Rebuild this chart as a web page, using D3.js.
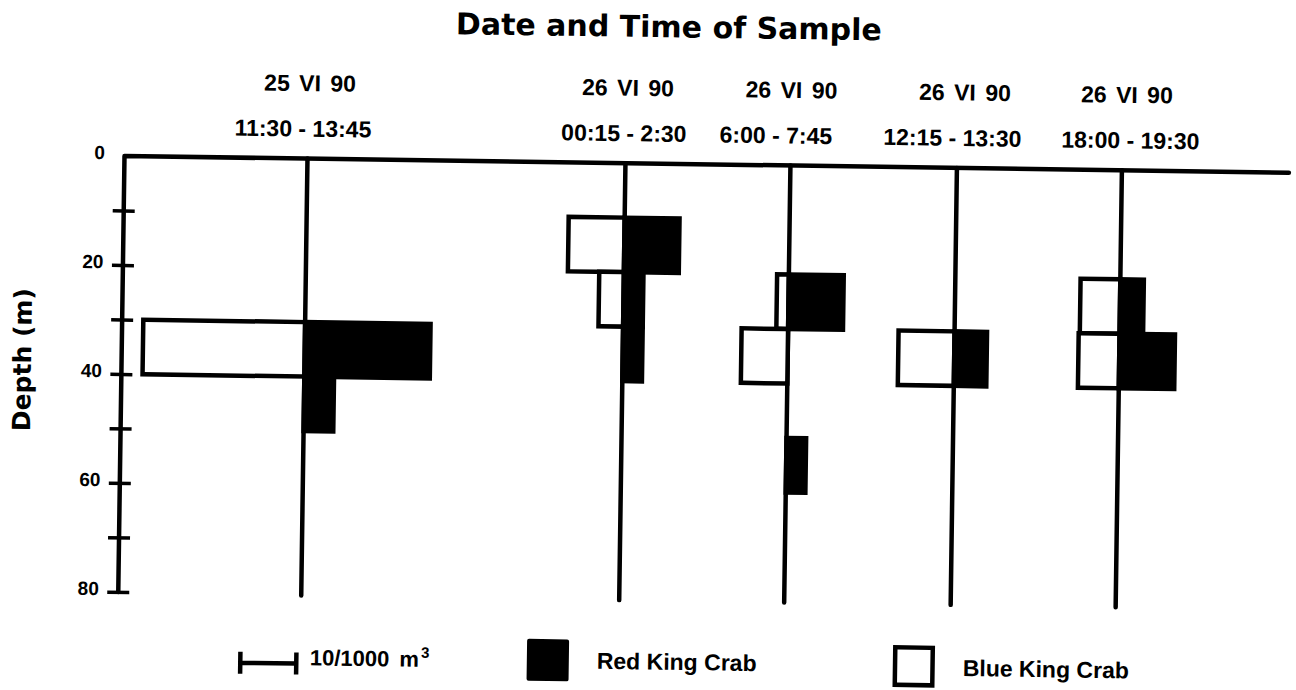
<!DOCTYPE html>
<html>
<head>
<meta charset="utf-8">
<script src="https://cdn.jsdelivr.net/npm/d3@7"></script>
<style>
  html, body { margin: 0; padding: 0; background: #fff; }
  svg { display: block; }
</style>
</head>
<body>
<svg id="chart" width="1296" height="690"></svg>
<script>
// ---- data ----
const sampleDates = ["25 VI 90", "26 VI 90", "26 VI 90", "26 VI 90", "26 VI 90"];
const sampleTimes = ["11:30 - 13:45", "00:15 - 2:30", "6:00 - 7:45", "12:15 - 13:30", "18:00 - 19:30"];
// top of each 10 m depth stratum (m)
const strataTop = [10, 20, 30, 40, 50];
// larval density (no./1000 m³), one row per sample, one value per stratum
const redKingCrab = [
  [0,   0,   22.4, 5.3, 0],
  [9.8, 3.5, 3.5,  0,   0],
  [0,   9.8, 0,    0,   3.5],
  [0,   0,   5.8,  0,   0],
  [0,   4.2, 9.9,  0,   0]
];
const blueKingCrab = [
  [0,  0,   28.9, 0, 0],
  [10, 4.4, 0,    0, 0],
  [0,  2.1, 8.3,  0, 0],
  [0,  0,   10,   0, 0],
  [0,  7.1, 7.3,  0, 0]
];
const depthTicks = [0, 10, 20, 30, 40, 50, 60, 70, 80];
const depthLabels = [0, 20, 40, 60, 80];
const scaleBarValue = 10;
const scaleUnit = ["10/1000 m", "3"];
const legendLabels = ["Red King Crab", "Blue King Crab"];

// ---- layout ----
const STROKE = 4.5;
const svg = d3.select("#chart");
// the printed figure sits slightly askew on the page
const g = svg.append("g").attr("transform", "rotate(0.82,125,156)");

const y = d3.scaleLinear().domain([0, 80]).range([156, 592]);
const stationX = d3.scaleOrdinal()
  .domain(d3.range(sampleDates.length))
  .range([307.5, 625.5, 790.5, 957, 1122]);
const w = d3.scaleLinear().domain([0, 10]).range([0, 56]);

const dateNudge = [1.5, 1.5, 0, 7, 4];
const timeNudge = [-5, -2, -15, -5, 8];

// title
g.append("text")
  .attr("x", 667).attr("y", 29.5)
  .attr("text-anchor", "middle")
  .attr("font-family", "DejaVu Sans")
  .attr("font-weight", "bold")
  .attr("font-size", 30)
  .text("Date and Time of Sample");

// sample headers
const hdr = g.append("g")
  .attr("font-family", "Liberation Sans")
  .attr("font-weight", "bold")
  .attr("font-size", 23)
  .attr("text-anchor", "middle");
hdr.selectAll("text.date").data(sampleDates).join("text")
  .attr("class", "date")
  .attr("x", (d, i) => stationX(i) + dateNudge[i])
  .attr("y", 88.5)
  .attr("word-spacing", 3)
  .text(d => d);
hdr.selectAll("text.time").data(sampleTimes).join("text")
  .attr("class", "time")
  .attr("x", (d, i) => stationX(i) + timeNudge[i])
  .attr("y", 134)
  .text(d => d);

// depth axis
const axisX = 124.5;
const axis = d3.axisLeft(y)
  .tickValues(depthTicks)
  .tickSizeInner(11)
  .tickSizeOuter(0)
  .tickFormat(d => depthLabels.includes(d) ? d3.format("d")(d) : "");
const ag = g.append("g").attr("transform", `translate(${axisX},0)`).call(axis);
ag.select(".domain").remove();
ag.selectAll(".tick line")
  .attr("x1", -11).attr("x2", 11)
  .attr("stroke", "#000").attr("stroke-width", 3.5);
ag.selectAll(".tick").filter(d => d === 0).select("line").remove();
ag.selectAll(".tick text")
  .attr("x", -19.5).attr("dy", null).attr("y", 3)
  .attr("fill", "#000")
  .style("font-family", "Liberation Sans")
  .style("font-weight", "bold")
  .style("font-size", "19px");

// axis line and the surface line
const frame = d3.path();
frame.moveTo(axisX, y(80));
frame.lineTo(axisX, y(0));
frame.lineTo(1289, y(0));
g.append("path")
  .attr("d", frame.toString())
  .attr("fill", "none")
  .attr("stroke", "#000")
  .attr("stroke-width", STROKE)
  .attr("stroke-linejoin", "round")
  .attr("stroke-linecap", "round");

// depth axis title
g.append("text")
  .attr("transform", "translate(34,361) rotate(-90)")
  .attr("text-anchor", "middle")
  .attr("font-family", "DejaVu Sans")
  .attr("font-weight", "bold")
  .attr("font-size", 25)
  .text("Depth (m)");

// station lines
g.selectAll("line.station").data(sampleDates).join("line")
  .attr("class", "station")
  .attr("x1", (d, i) => stationX(i)).attr("x2", (d, i) => stationX(i))
  .attr("y1", y(0)).attr("y2", y(80) + 1)
  .attr("stroke", "#000")
  .attr("stroke-width", STROKE)
  .attr("stroke-linecap", "round");

// flatten to bar records
function bars(series) {
  const out = [];
  series.forEach((row, i) => row.forEach((v, j) => {
    if (v > 0) out.push({ station: i, top: strataTop[j], value: v });
  }));
  return out;
}

// blue king crab: open boxes to the left
g.selectAll("rect.blue").data(bars(blueKingCrab)).join("rect")
  .attr("class", "blue")
  .attr("x", d => stationX(d.station) - w(d.value))
  .attr("y", d => y(d.top))
  .attr("width", d => w(d.value))
  .attr("height", d => y(d.top + 10) - y(d.top))
  .attr("fill", "#fff")
  .attr("stroke", "#000")
  .attr("stroke-width", STROKE);

// red king crab: solid boxes to the right
g.selectAll("rect.red").data(bars(redKingCrab)).join("rect")
  .attr("class", "red")
  .attr("x", d => stationX(d.station))
  .attr("y", d => y(d.top))
  .attr("width", d => w(d.value))
  .attr("height", d => y(d.top + 10) - y(d.top))
  .attr("fill", "#000")
  .attr("stroke", "#000")
  .attr("stroke-width", STROKE);

// legend
const lg = g.append("g")
  .attr("font-family", "Liberation Sans")
  .attr("font-weight", "bold");

const sbX = 247.5, sbY = 661;
const sb = d3.path();
sb.moveTo(sbX, sbY); sb.lineTo(sbX + w(scaleBarValue), sbY);
sb.moveTo(sbX, sbY - 11); sb.lineTo(sbX, sbY + 11);
sb.moveTo(sbX + w(scaleBarValue), sbY - 11); sb.lineTo(sbX + w(scaleBarValue), sbY + 11);
lg.append("path")
  .attr("d", sb.toString())
  .attr("fill", "none")
  .attr("stroke", "#000")
  .attr("stroke-width", STROKE);
const st = lg.append("text")
  .attr("x", 317).attr("y", 662.5)
  .attr("font-size", 22)
  .attr("word-spacing", 4);
st.append("tspan").text(scaleUnit[0]);
st.append("tspan").attr("font-size", 15).attr("dx", 2).attr("dy", -9).text(scaleUnit[1]);

lg.append("rect")
  .attr("x", 534).attr("y", 633)
  .attr("width", 42).attr("height", 42)
  .attr("rx", 2)
  .attr("fill", "#000");
lg.append("text")
  .attr("x", 604).attr("y", 662)
  .attr("font-size", 23)
  .text(legendLabels[0]);

lg.append("rect")
  .attr("x", 902.25).attr("y", 636.25)
  .attr("width", 37.5).attr("height", 37.5)
  .attr("fill", "#fff")
  .attr("stroke", "#000")
  .attr("stroke-width", STROKE);
lg.append("text")
  .attr("x", 970).attr("y", 664)
  .attr("font-size", 23)
  .text(legendLabels[1]);
</script>
</body>
</html>
